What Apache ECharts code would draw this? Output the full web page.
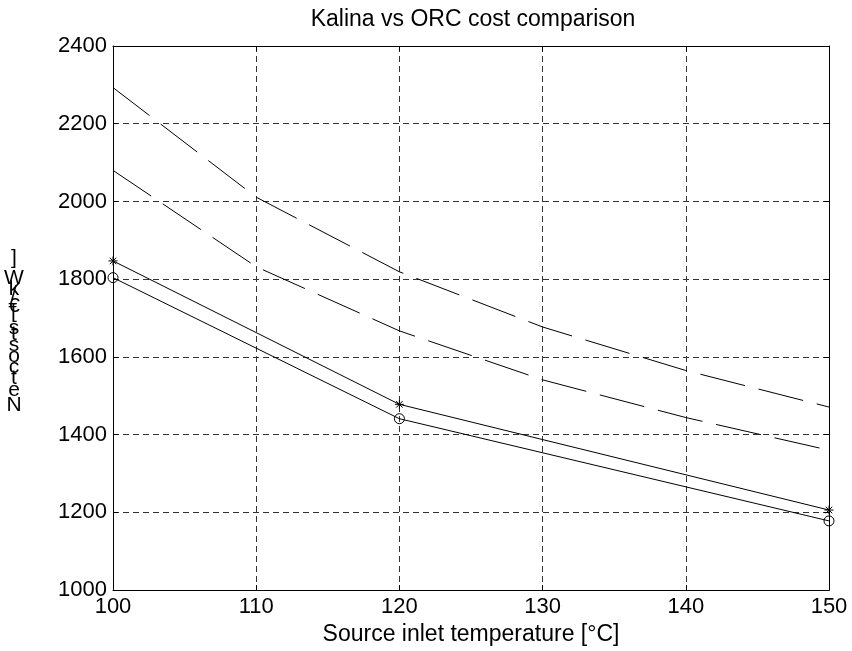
<!DOCTYPE html>
<html>
<head>
<meta charset="utf-8">
<script src="https://cdn.jsdelivr.net/npm/echarts@6/dist/echarts.min.js"></script>
<style>
  html, body { margin: 0; padding: 0; background: #fff; }
  #chart { width: 852px; height: 651px; }
</style>
</head>
<body>
<div id="chart"></div>
<script>
// Source inlet temperatures [°C]
const tempsMarked = [100, 120, 150];
const tempsDense = [100, 110, 120, 130, 140, 150];

// Net costs [€/kW]
const costsStar = [1847, 1478, 1206];
const costsCircle = [1804, 1441, 1178];
const costsDashedUpper = [2293, 2011, 1819, 1677, 1565, 1471];
const costsDashedLower = [2080, 1832, 1667, 1541, 1444, 1360];

const xTicks = [100, 110, 120, 130, 140, 150];
const yTicks = [1000, 1200, 1400, 1600, 1800, 2000, 2200, 2400];

const titleText = 'Kalina vs ORC cost comparison';
const xName = 'Source inlet temperature [°C]';
const yName = 'Net costs [€/kW]';

const FONT = 'Liberation Sans, Arial, Helvetica, sans-serif';

function pairs(xs, ys) { return xs.map((x, i) => [x, ys[i]]); }

// asterisk marker drawn as strokes
const asterisk = 'path://M0,-5L0,5M-5,0L5,0M-3.6,-3.6L3.6,3.6M-3.6,3.6L3.6,-3.6';

// vertically stacked y-axis label, characters upright, advancing upward by their widths
function stackedLabel(text, fontSize, x, bottom) {
  const ctx = document.createElement('canvas').getContext('2d');
  ctx.font = fontSize + 'px ' + FONT;
  const els = [];
  let y = bottom;
  for (const ch of text) {
    const w = ctx.measureText(ch).width;
    if (ch !== ' ') {
      els.push({
        type: 'text', x: x, y: y,
        style: { text: ch, font: fontSize + 'px ' + FONT, fill: '#000',
                 textAlign: 'center', textVerticalAlign: 'bottom' }
      });
    }
    y -= w;
  }
  return els;
}

const chart = echarts.init(document.getElementById('chart'), null, { renderer: 'canvas' });

const gridDash = { color: '#333', type: [6, 4], width: 1 };
const axisLineStyle = { lineStyle: { color: '#000', width: 1 } };

chart.setOption({
  animation: false,
  backgroundColor: '#fff',
  title: {
    text: titleText,
    left: 468, top: 3, textAlign: 'center',
    textStyle: { fontFamily: FONT, fontWeight: 'normal', fontSize: 23, color: '#000' }
  },
  grid: { left: 113, right: 23, top: 46, bottom: 60, containLabel: false },
  xAxis: [{
    type: 'value', min: 100, max: 150, interval: 10,
    name: xName, nameLocation: 'middle', nameGap: 30,
    nameTextStyle: { fontFamily: FONT, fontSize: 23, color: '#000' },
    axisLine: axisLineStyle,
    axisTick: { inside: true, length: 5, lineStyle: { color: '#000' } },
    axisLabel: { fontFamily: FONT, fontSize: 22, color: '#000', margin: 6,
                 customValues: xTicks },
    splitLine: { show: true, lineStyle: gridDash }
  }, {
    type: 'value', position: 'top', min: 100, max: 150, interval: 10,
    axisLine: axisLineStyle,
    axisTick: { inside: true, length: 5, lineStyle: { color: '#000' } },
    axisLabel: { show: false }, splitLine: { show: false }
  }],
  yAxis: [{
    type: 'value', min: 1000, max: 2400, interval: 200,
    axisLine: { show: true, lineStyle: { color: '#000', width: 1 } },
    axisTick: { show: true, inside: true, length: 5, lineStyle: { color: '#000' } },
    axisLabel: { fontFamily: FONT, fontSize: 22, color: '#000', margin: 6,
                 formatter: v => String(v) },
    splitLine: { show: true, lineStyle: gridDash }
  }, {
    type: 'value', position: 'right', min: 1000, max: 2400, interval: 200,
    axisLine: { show: true, lineStyle: { color: '#000', width: 1 } },
    axisTick: { show: true, inside: true, length: 5, lineStyle: { color: '#000' } },
    axisLabel: { show: false }, splitLine: { show: false }
  }],
  graphic: stackedLabel(yName, 21, 14, 416),
  series: [{
    name: 'star', type: 'line', data: pairs(tempsMarked, costsStar),
    symbol: asterisk, symbolSize: 9, showSymbol: true, clip: false,
    lineStyle: { color: '#000', width: 1 },
    itemStyle: { color: 'transparent', borderColor: '#000', borderWidth: 1 }
  }, {
    name: 'circle', type: 'line', data: pairs(tempsMarked, costsCircle),
    symbol: 'circle', symbolSize: 10, showSymbol: true, clip: false,
    lineStyle: { color: '#000', width: 1 },
    itemStyle: { color: 'transparent', borderColor: '#000', borderWidth: 1 }
  }, {
    name: 'upper', type: 'line', data: pairs(tempsDense, costsDashedUpper),
    symbol: 'none',
    lineStyle: { color: '#000', width: 1, type: [46, 14] }
  }, {
    name: 'lower', type: 'line', data: pairs(tempsDense, costsDashedLower),
    symbol: 'none',
    lineStyle: { color: '#000', width: 1, type: [46, 14] }
  }]
});
</script>
</body>
</html>
